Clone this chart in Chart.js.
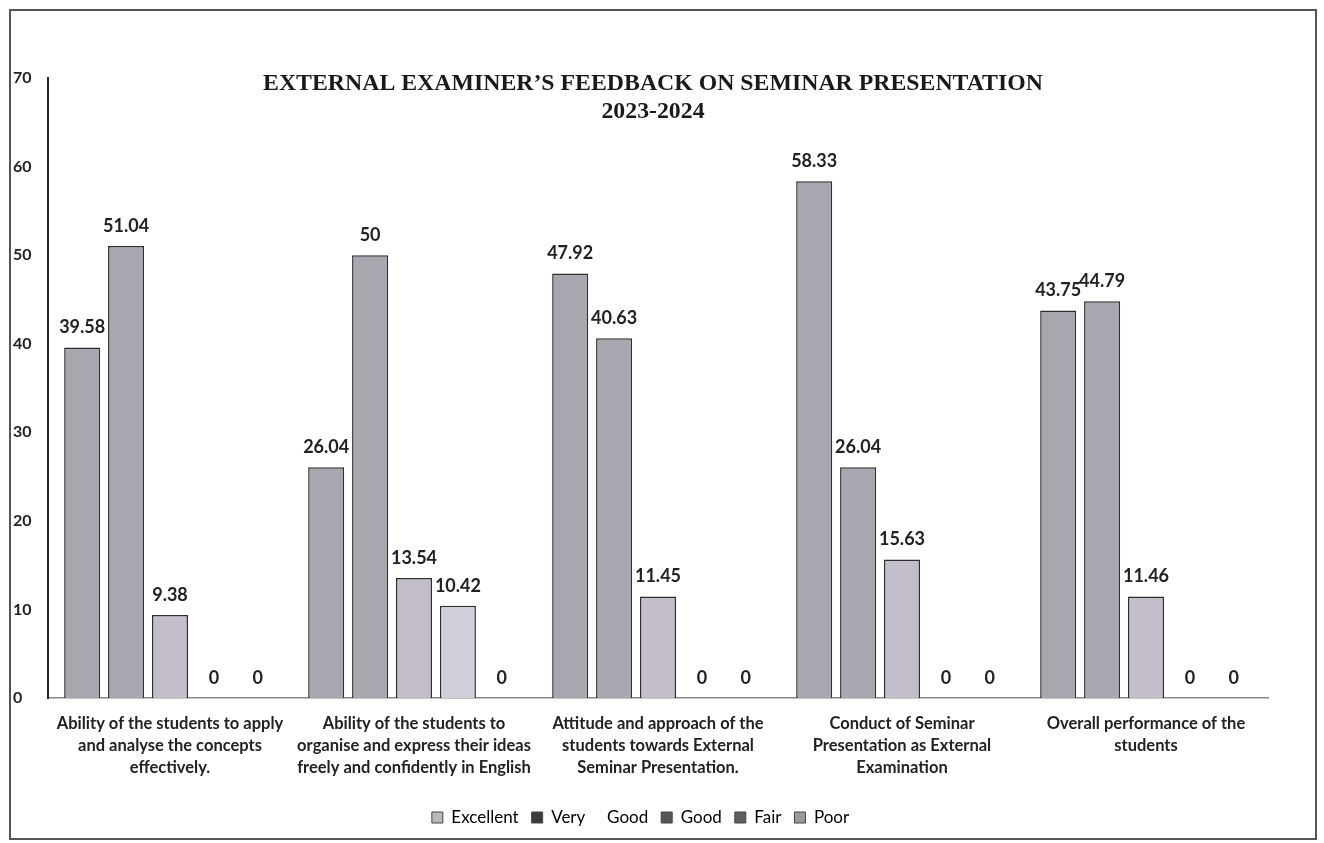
<!DOCTYPE html>
<html>
<head>
<meta charset="utf-8">
<script src="https://cdn.jsdelivr.net/npm/chart.js@4"></script>
<style>
  html, body { margin: 0; padding: 0; background: #fff; }
  #wrap { width: 1324px; height: 843px; position: relative; }
</style>
</head>
<body>
<div id="wrap"><canvas id="chart" width="1324" height="843"></canvas></div>
<script>
const categories = [
    ["Ability of the students to apply", "and analyse the concepts", "effectively."],
    ["Ability of the students to", "organise and express their ideas", "freely and confidently in English"],
    ["Attitude and approach of the", "students towards External", "Seminar Presentation."],
    ["Conduct of Seminar", "Presentation as External", "Examination"],
    ["Overall performance of the", "students"]
];

const seriesNames = ["Excellent", "Very     Good", "Good", "Fair", "Poor"];

const excellent = [39.58, 26.04, 47.92, 58.33, 43.75];
const veryGood  = [51.04, 50, 40.63, 26.04, 44.79];
const good      = [9.38, 13.54, 11.45, 15.63, 11.46];
const fair      = [0, 10.42, 0, 0, 0];
const poor      = [0, 0, 0, 0, 0];

const titleLines = ["EXTERNAL EXAMINER\u2019S FEEDBACK ON SEMINAR PRESENTATION", "2023-2024"];

const barColors = ["#aaa6b0", "#aba7b1", "#c3bec9", "#d3cfda", "#bdbdbd"];
const swatchColors = ["#b8b8b8", "#3c3c3c", "#555555", "#5e5e5e", "#9a9a9a"];

// border round the whole picture + the title inside the plot
const frame = {
    id: "frame",
    beforeDraw(chart) {
        const ctx = chart.ctx;
        ctx.save();
        ctx.fillStyle = "#fff";
        ctx.fillRect(0, 0, chart.width, chart.height);
        ctx.strokeStyle = "#555";
        ctx.lineWidth = 2;
        ctx.strokeRect(10, 10, 1306, 829);
        ctx.restore();
    },
    afterDraw(chart) {
        const ctx = chart.ctx;
        ctx.save();
        ctx.fillStyle = "#1a1a1a";
        ctx.font = "bold 23.8px 'Liberation Serif', 'DejaVu Serif', serif";
        ctx.textAlign = "center";
        ctx.textBaseline = "middle";
        ctx.fillText(titleLines[0], 653, 84);
        ctx.fillText(titleLines[1], 653, 112);
        ctx.restore();
    }
};

// value over every bar
const valueLabels = {
    id: "valueLabels",
    afterDatasetsDraw(chart) {
        const ctx = chart.ctx;
        ctx.save();
        ctx.fillStyle = "#222";
        ctx.font = "bold 18px Lato, 'Open Sans', sans-serif";
        ctx.textAlign = "center";
        ctx.textBaseline = "bottom";
        chart.data.datasets.forEach((ds, i) => {
            const meta = chart.getDatasetMeta(i);
            meta.data.forEach((bar, j) => {
                ctx.fillText(String(ds.data[j]), bar.x, bar.y - 11);
            });
        });
        ctx.restore();
    }
};

const allSeries = [excellent, veryGood, good, fair, poor];

new Chart(document.getElementById("chart"), {
    type: "bar",
    data: {
        labels: categories,
        datasets: allSeries.map((values, i) => ({
            label: seriesNames[i],
            data: values,
            backgroundColor: barColors[i],
            borderColor: "#2e2e2e",
            borderWidth: 1.5,
            categoryPercentage: 0.9,
            barPercentage: 0.82
        }))
    },
    options: {
        responsive: false,
        animation: false,
        layout: { padding: { top: 78, left: 13, right: 56, bottom: 7 } },
        plugins: {
            title: { display: false },
            tooltip: { enabled: false },
            legend: {
                position: "bottom",
                labels: {
                    boxWidth: 11,
                    boxHeight: 11,
                    padding: 13,
                    color: "#222",
                    font: { family: "Lato, 'Open Sans', sans-serif", size: 17 },
                    generateLabels(chart) {
                        return chart.data.datasets.map((ds, i) => ({
                            text: ds.label,
                            fillStyle: swatchColors[i],
                            strokeStyle: "#444",
                            lineWidth: 1,
                            datasetIndex: i
                        }));
                    }
                }
            }
        },
        scales: {
            x: {
                grid: { display: false, drawTicks: false },
                border: { display: true, color: "#888", width: 1.5 },
                ticks: {
                    color: "#222",
                    maxRotation: 0,
                    autoSkip: false,
                    padding: 15,
                    font: { family: "Lato, 'Open Sans', sans-serif", size: 16.5, weight: "bold", lineHeight: 1.33 }
                },
                afterFit(scale) { scale.height = 98; }
            },
            y: {
                min: 0,
                max: 70,
                grid: { display: false, drawTicks: false },
                border: { display: true, color: "#222", width: 2 },
                ticks: {
                    stepSize: 10,
                    crossAlign: "far",
                    color: "#222",
                    font: { family: "Lato, 'Open Sans', sans-serif", size: 16, weight: "bold" }
                },
                afterFit(scale) { scale.width = 35; }
            }
        }
    },
    plugins: [frame, valueLabels]
});
</script>
</body>
</html>
